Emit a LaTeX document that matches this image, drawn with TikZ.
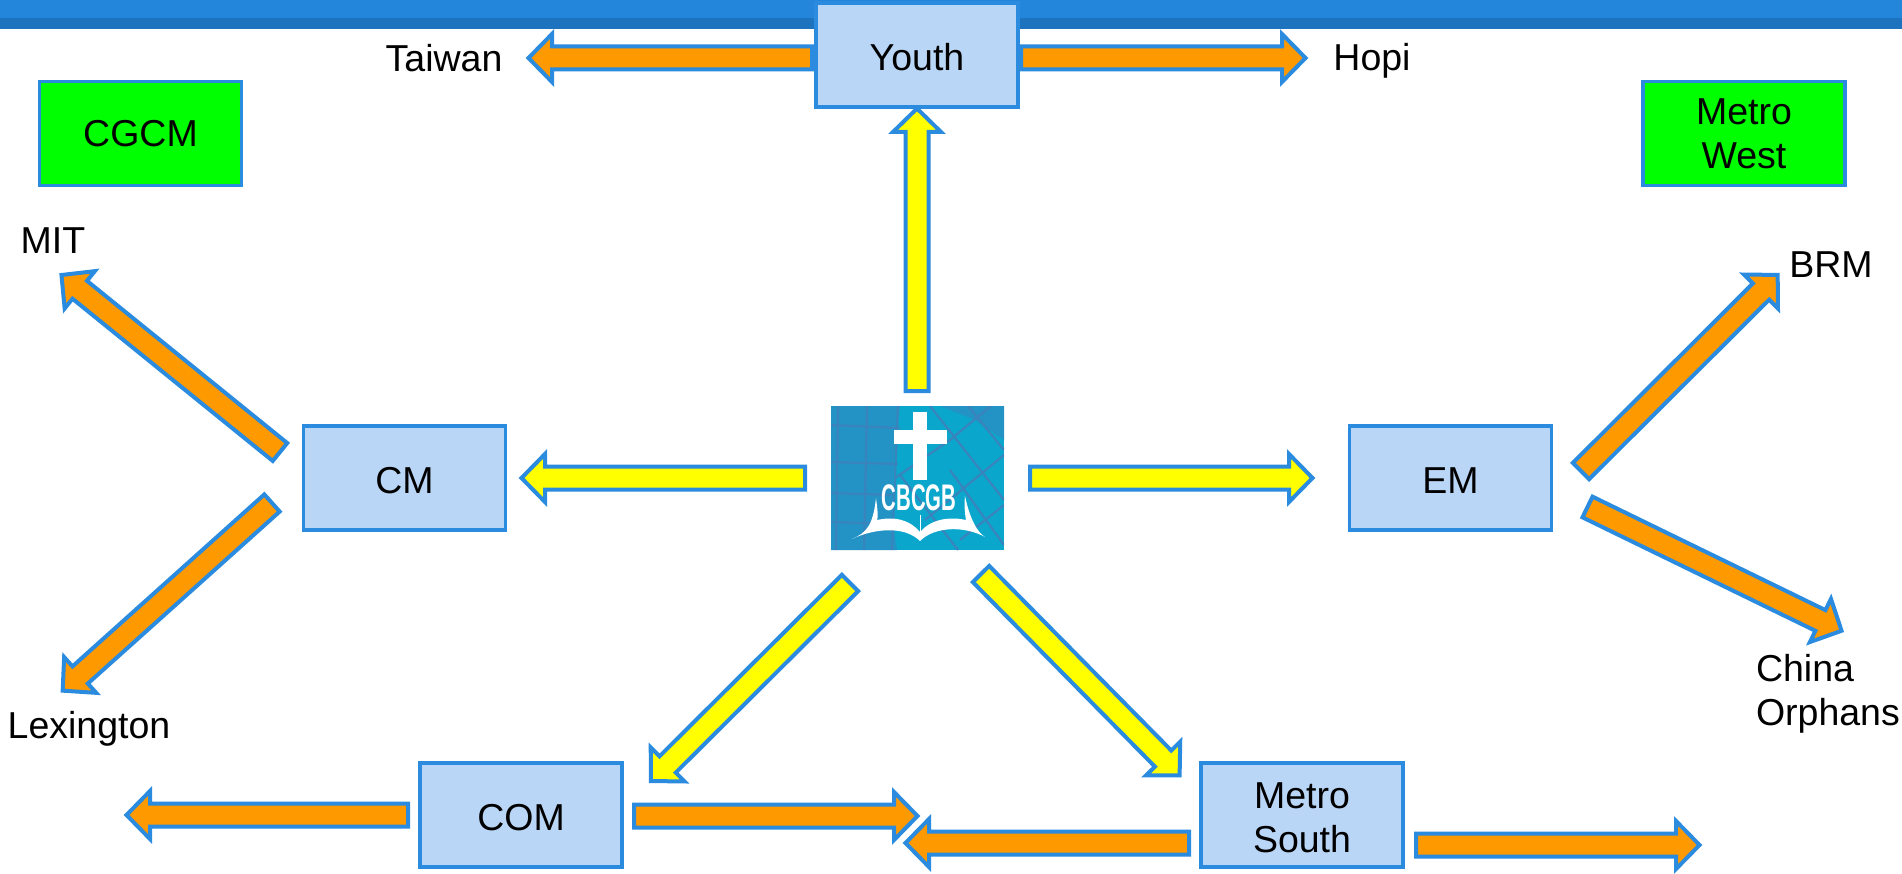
\documentclass[tikz,border=0pt]{standalone}
\usepackage{fontspec}
\setmainfont{Liberation Sans}
\usetikzlibrary{calc}
\definecolor{bandA}{HTML}{2486DB}
\definecolor{bandB}{HTML}{1E73BE}
\definecolor{edgeB}{HTML}{2A8BDF}
\definecolor{boxB}{HTML}{BAD6F6}
\definecolor{arrO}{HTML}{FF9900}
\definecolor{arrY}{HTML}{FFFF00}
\definecolor{logoA}{HTML}{2392C4}
\definecolor{logoB}{HTML}{0BA6CB}
\definecolor{logoL}{HTML}{3A84BE}
\newcommand{\txtsize}{\fontsize{37.5pt}{44pt}\selectfont}
\newcommand{\dn}[1]{\raisebox{-12.5pt}[0pt][0pt]{\begin{tabular}{@{}c@{}}#1\end{tabular}}}
\tikzset{
  x=1pt,y=-1pt,
  every node/.style={font=\txtsize,inner sep=0pt,outer sep=0pt,text=black},
  bluebox/.style={draw=edgeB,line width=3.5pt,fill=boxB,minimum width=202pt,minimum height=104pt,align=center},
  greenbox/.style={draw=edgeB,line width=3.5pt,fill=green,minimum width=202pt,minimum height=104pt,align=center},
  lbl/.style={align=center},
  orangearr/.style={draw=edgeB,line width=4pt,fill=arrO,miter limit=10},
  yellowarr/.style={draw=edgeB,line width=4pt,fill=arrY,miter limit=10}
}
\newcommand{\blockarr}[3]{%
  \path let \p1=($(#3)-(#2)$),\n1={atan2(\y1,\x1)},\n2={veclen(\x1,\y1)} in
  [shift={(#2)},rotate=\n1]
  [#1] (0,-11.5) -- (\n2-24,-11.5) -- (\n2-24,-24) -- (\n2-0.5,0) -- (\n2-24,24) -- (\n2-24,11.5) -- (0,11.5) -- cycle;}
\begin{document}
\begin{tikzpicture}
\useasboundingbox (0,0) rectangle (1902,874);
% header band
\fill[bandA] (0,0) rectangle (1902,18);
\fill[bandB] (0,18) rectangle (1902,29);
% boxes
\node[bluebox] (youth) at (917,55) {\dn{Youth}};
\node[greenbox] (cgcm) at (140.5,133.5) {CGCM};
\node[greenbox] (mwest) at (1744,133.5) {Metro\\West};
\node[bluebox] (cm) at (404.5,478) {\dn{CM}};
\node[bluebox] (em) at (1450.5,478) {\dn{EM}};
\node[bluebox] (com) at (521,815) {\dn{COM}};
\node[bluebox] (msouth) at (1302,815) {\dn{Metro\\South}};
% labels
\node[lbl] (taiwan) at (444,58) {Taiwan};
\node[lbl] (hopi) at (1372,61) {Hopi};
\node[lbl] (mit) at (53,241) {MIT};
\node[lbl] (lex) at (89,729) {Lexington};
\node[lbl] (brm) at (1831,265) {BRM};
\node[align=left,anchor=north west] (china) at (1756,654) {China\\Orphans};
% logo
\node[minimum width=173pt,minimum height=144pt] (logo) at (917.5,478) {};
\begin{scope}
\clip (logo.north west) rectangle (logo.south east);
\fill[logoB] (logo.north west) rectangle (logo.south east);
\fill[logoA] (831,406) -- (900,406) .. controls (893,450) and (890,510) .. (897,550) -- (831,550) -- cycle;
\fill[logoA] (940,406) -- (1004,406) -- (1004,440) -- (975,420) -- cycle;
\begin{scope}[logoL,line width=2.2pt]
\draw (838,406) -- (836,550);
\draw (867,406) -- (864,550);
\draw (898,406) -- (892,550);
\draw (831,425) -- (900,428);
\draw (831,462) -- (898,464);
\draw (831,493) -- (892,495);
\draw (831,522) -- (892,524);
\draw (895,478) -- (950,440) -- (1004,395);
\draw (925,520) -- (1004,455);
\draw (960,540) -- (1004,505);
\draw (930,406) -- (1004,500);
\draw (968,406) -- (1004,450);
\draw (900,475) -- (958,550);
\draw (950,470) -- (1004,545);
\end{scope}
\end{scope}
\fill[white] (913,412) rectangle (927,480);
\fill[white] (894,430) rectangle (947,444);
\fill[white] (852,539) .. controls (866,533) and (873,526) .. (876,498)
  .. controls (878,512) and (878,518) .. (877,520)
  .. controls (895,516) and (910,520) .. (920,532)
  .. controls (930,520) and (948,516) .. (966,520)
  .. controls (965,515) and (964,505) .. (965,496)
  .. controls (970,520) and (978,533) .. (985,537)
  .. controls (965,526) and (935,526) .. (920,541)
  .. controls (905,526) and (875,528) .. (852,539) -- cycle;
\fill[white] (919.5,515) rectangle (921,536);
\node[text=white,font=\bfseries\fontsize{37pt}{37pt}\selectfont,xscale=0.55] (cbcgb) at (919,498) {CBCGB};
% connector endpoints
\coordinate (upT) at (917,391); \coordinate (upH) at (917,108);
\coordinate (lfT) at (805,478); \coordinate (lfH) at (521,478);
\coordinate (rtT) at (1030,478); \coordinate (rtH) at (1313,478);
\coordinate (dlT) at (850,583); \coordinate (dlH) at (650.6,781.4);
\coordinate (drT) at (981,574); \coordinate (drH) at (1180,775.7);
\coordinate (ylT) at (812,58); \coordinate (ylH) at (528,58);
\coordinate (yrT) at (1021,58); \coordinate (yrH) at (1306,58);
\coordinate (mitT) at (280,452); \coordinate (mitH) at (61.1,274.7);
\coordinate (lexT) at (272,503); \coordinate (lexH) at (62.3,691);
\coordinate (brmT) at (1581,471); \coordinate (brmH) at (1778,274.6);
\coordinate (chT) at (1587.5,507); \coordinate (chH) at (1842,631);
\coordinate (clT) at (408,815); \coordinate (clH) at (126,815);
\coordinate (crT) at (634,816); \coordinate (crH) at (918,816);
\coordinate (slT) at (1189,843); \coordinate (slH) at (905,843);
\coordinate (srT) at (1416,845); \coordinate (srH) at (1700,845);
% arrows
\blockarr{yellowarr}{upT}{upH}
\blockarr{yellowarr}{lfT}{lfH}
\blockarr{yellowarr}{rtT}{rtH}
\blockarr{yellowarr}{dlT}{dlH}
\blockarr{yellowarr}{drT}{drH}
\blockarr{orangearr}{ylT}{ylH}
\blockarr{orangearr}{yrT}{yrH}
\blockarr{orangearr}{mitT}{mitH}
\blockarr{orangearr}{lexT}{lexH}
\blockarr{orangearr}{brmT}{brmH}
\blockarr{orangearr}{chT}{chH}
\blockarr{orangearr}{clT}{clH}
\blockarr{orangearr}{crT}{crH}
\blockarr{orangearr}{slT}{slH}
\blockarr{orangearr}{srT}{srH}
\end{tikzpicture}
\end{document}
